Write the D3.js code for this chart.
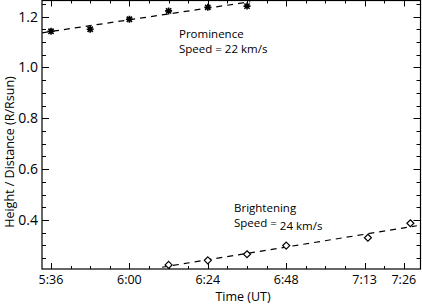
<!DOCTYPE html>
<html>
<head>
<meta charset="utf-8">
<script src="https://cdn.jsdelivr.net/npm/d3@7"></script>
<style>
  html, body { margin: 0; padding: 0; background: #fff; }
  svg { display: block; }
  text { font-family: "Open Sans", "DejaVu Sans", sans-serif; fill: #000; }
</style>
</head>
<body>
<svg id="chart" width="422" height="304"></svg>
<script>
// ── Data (time in minutes since 00:00 UT) ─────────────────
const promTime = [336, 348, 360, 372, 384, 396];
const promHeight = [1.142, 1.150, 1.189, 1.222, 1.236, 1.241];
const promFit = [[333.3, 1.136], [397, 1.258]];

const brightTime = [372, 384, 396, 408, 433, 446];
const brightHeight = [0.223, 0.241, 0.265, 0.299, 0.330, 0.387];
const brightFit = [[370, 0.214], [448, 0.377]];

const xMajorTicks = [336, 360, 384, 408, 432, 444];
const xTickLabels = ['5:36', '6:00', '6:24', '6:48', '7:13', '7:26'];
const yMajorTicks = [0.4, 0.6, 0.8, 1.0, 1.2];

// ── Layout ────────────────────────────────────────────────
const svg = d3.select('#chart');
const L = 42, R = 420.5, T = 0.5, B = 269;

const x = d3.scaleLinear().domain([333.25, 449.1]).range([L, R]);
const y = d3.scaleLinear().domain([0.207, 1.263]).range([B, T]);

svg.append('defs').append('clipPath').attr('id', 'plot-clip')
  .append('rect').attr('x', L).attr('y', T).attr('width', R - L).attr('height', B - T);

// frame
svg.append('rect')
  .attr('x', L).attr('y', T).attr('width', R - L).attr('height', B - T)
  .attr('fill', 'none').attr('stroke', '#000').attr('stroke-width', 1.2);

// ── Ticks (inward, all four sides) ────────────────────────
const xMinor = d3.range(336, 449, 6);
const yMinor = d3.range(0.25, 1.26, 0.05).map(v => +v.toFixed(2));
const ticks = svg.append('g').attr('stroke', '#000').attr('stroke-width', 1);

xMinor.forEach(t => {
  const len = xMajorTicks.includes(t) ? 6 : 3;
  const px = Math.round(x(t)) + 0.5;
  ticks.append('line').attr('x1', px).attr('x2', px).attr('y1', B).attr('y2', B - len);
  ticks.append('line').attr('x1', px).attr('x2', px).attr('y1', T).attr('y2', T + len);
});

yMinor.forEach(v => {
  const len = yMajorTicks.some(m => Math.abs(m - v) < 1e-6) ? 7 : 4;
  const py = Math.round(y(v)) + 0.5;
  ticks.append('line').attr('x1', L).attr('x2', L + len).attr('y1', py).attr('y2', py);
  ticks.append('line').attr('x1', R).attr('x2', R - len).attr('y1', py).attr('y2', py);
});

// tick labels
svg.append('g').selectAll('text')
  .data(xMajorTicks)
  .join('text')
  .attr('x', d => x(d))
  .attr('y', 284)
  .attr('text-anchor', 'middle')
  .attr('font-size', '12.5px')
  .text((d, i) => xTickLabels[i]);

svg.append('g').selectAll('text')
  .data(yMajorTicks)
  .join('text')
  .attr('x', 38)
  .attr('y', d => y(d) + 5)
  .attr('text-anchor', 'end')
  .attr('font-size', '14px')
  .text(d => d.toFixed(1));

// axis titles
svg.append('text')
  .attr('x', 243).attr('y', 301)
  .attr('text-anchor', 'middle')
  .attr('font-size', '12.5px')
  .text('Time (UT)');

svg.append('text')
  .attr('transform', 'translate(14,152) rotate(-90)')
  .attr('text-anchor', 'middle')
  .attr('font-size', '12.5px')
  .text('Height / Distance (R/Rsun)');

// ── Fits and points ───────────────────────────────────────
const plot = svg.append('g').attr('clip-path', 'url(#plot-clip)');
const line = d3.line().x(d => x(d[0])).y(d => y(d[1]));

[promFit, brightFit].forEach(f => {
  plot.append('path')
    .attr('d', line(f))
    .attr('fill', 'none')
    .attr('stroke', '#000')
    .attr('stroke-width', 1.2)
    .attr('stroke-dasharray', '6,5');
});

// asterisks
const star = svg.append('g').attr('stroke', '#000').attr('stroke-width', 1.6);
promTime.forEach((t, i) => {
  const cx = x(t), cy = y(promHeight[i]), r = 3.5, d = r * 0.75;
  star.append('path')
    .attr('d', `M${cx - r},${cy}H${cx + r}M${cx},${cy - r}V${cy + r}` +
      `M${cx - d},${cy - d}L${cx + d},${cy + d}M${cx - d},${cy + d}L${cx + d},${cy - d}`);
});

// diamonds
svg.append('g').selectAll('path')
  .data(brightTime)
  .join('path')
  .attr('d', (t, i) => {
    const cx = x(t), cy = y(brightHeight[i]), r = 3.5;
    return `M${cx},${cy - r}L${cx + r},${cy}L${cx},${cy + r}L${cx - r},${cy}Z`;
  })
  .attr('fill', '#fff')
  .attr('stroke', '#000')
  .attr('stroke-width', 1.2);

// ── Annotations ───────────────────────────────────────────
const ann = svg.append('g').attr('font-size', '11.5px');
ann.append('text').attr('x', 179).attr('y', 38).text('Prominence');
ann.append('text').attr('x', 179).attr('y', 53).text('Speed = 22 km/s');
ann.append('text').attr('x', 234).attr('y', 212).text('Brightening');
const sp = ann.append('text').attr('x', 234).attr('y', 227);
sp.append('tspan').text('Speed = ');
sp.append('tspan').attr('dy', 3).text('24 km/s');
</script>
</body>
</html>
